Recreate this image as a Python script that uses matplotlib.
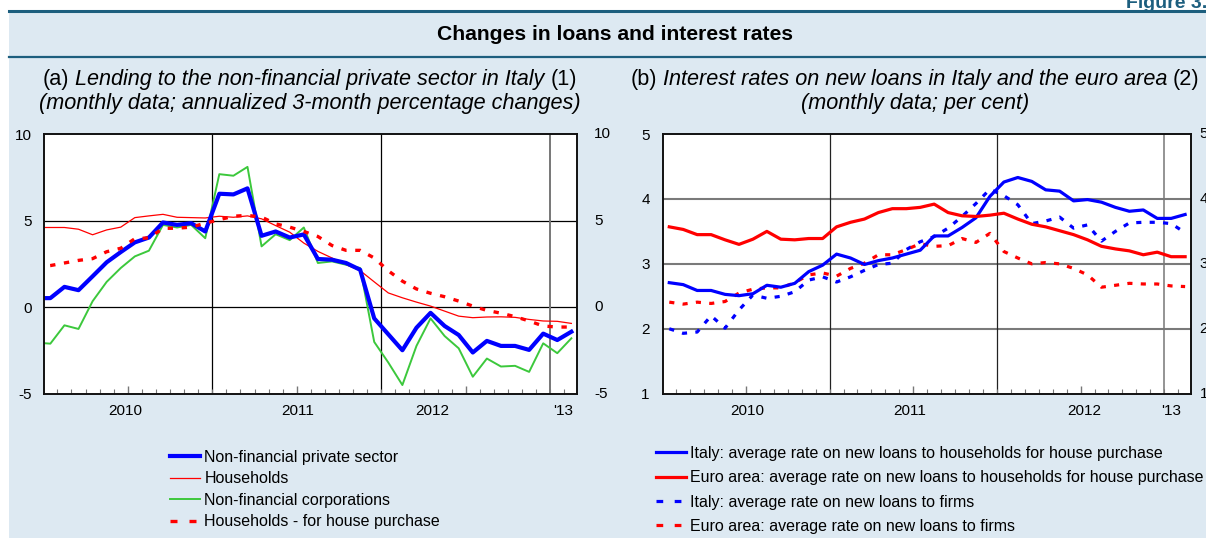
import matplotlib
matplotlib.use("Agg")
import matplotlib.pyplot as plt
from matplotlib.patches import Rectangle
from matplotlib.lines import Line2D
from matplotlib.transforms import offset_copy
import numpy as np

plt.rcParams["font.family"] = ["Liberation Sans", "DejaVu Sans"]

W, H, DPI = 1206, 538, 100

# ---------------------------------------------------------------- data
# Panel (a): Dec 2009 - Feb 2013, annualized 3-month percentage changes
lend_private = [0.52, 0.52, 1.17, 0.98, 1.78, 2.59, 3.18, 3.74, 4.02, 4.89,
                4.75, 4.85, 4.37, 6.55, 6.51, 6.86, 4.12, 4.37, 4.02, 4.20,
                2.78, 2.74, 2.55, 2.16, -0.65, -1.57, -2.49, -1.19, -0.33, -1.09,
                -1.61, -2.62, -1.95, -2.24, -2.24, -2.47, -1.53, -1.90, -1.42]
lend_households = [4.60, 4.60, 4.60, 4.50, 4.18, 4.46, 4.62, 5.17, 5.27, 5.36,
                   5.19, 5.17, 5.15, 5.25, 5.19, 5.27, 5.10, 4.71, 4.33, 3.70,
                   3.22, 2.84, 2.45, 2.11, 1.46, 0.82, 0.54, 0.29, 0.06, -0.23,
                   -0.52, -0.61, -0.57, -0.56, -0.59, -0.71, -0.80, -0.82, -0.94]
lend_firms = [-2.05, -2.11, -1.05, -1.26, 0.34, 1.46, 2.26, 2.93, 3.26, 4.75,
              4.60, 4.75, 3.98, 7.68, 7.59, 8.10, 3.51, 4.21, 3.87, 4.60,
              2.55, 2.64, 2.45, 2.26, -2.01, -3.20, -4.50, -2.24, -0.65, -1.67,
              -2.38, -4.02, -2.97, -3.43, -3.39, -3.74, -2.09, -2.66, -1.80]
lend_house = [2.30, 2.40, 2.55, 2.70, 2.80, 3.20, 3.40, 3.95, 4.00, 4.55,
              4.56, 4.62, 4.85, 5.05, 5.25, 5.30, 5.20, 4.81, 4.62, 4.37,
              4.08, 3.56, 3.28, 3.28, 2.84, 2.10, 1.50, 1.05, 0.80, 0.60,
              0.35, 0.06, -0.19, -0.35, -0.55, -0.80, -1.09, -1.15, -1.15]

# Panel (b): Jan 2010 - Feb 2013, per cent
rate_it_house = [2.71, 2.68, 2.59, 2.59, 2.53, 2.51, 2.54, 2.67, 2.64, 2.70,
                 2.88, 2.98, 3.15, 3.09, 2.99, 3.05, 3.09, 3.15, 3.21, 3.43,
                 3.43, 3.56, 3.71, 4.04, 4.26, 4.33, 4.27, 4.14, 4.12, 3.97,
                 3.99, 3.95, 3.87, 3.81, 3.83, 3.70, 3.70, 3.76]
rate_ea_house = [3.57, 3.53, 3.45, 3.45, 3.37, 3.30, 3.38, 3.50, 3.38, 3.37,
                 3.39, 3.39, 3.57, 3.64, 3.69, 3.79, 3.85, 3.85, 3.87, 3.92,
                 3.79, 3.74, 3.73, 3.75, 3.78, 3.69, 3.61, 3.57, 3.51, 3.45,
                 3.37, 3.27, 3.23, 3.20, 3.14, 3.18, 3.11, 3.11]
rate_it_firms = [2.00, 1.93, 1.95, 2.20, 2.01, 2.29, 2.52, 2.47, 2.50, 2.57,
                 2.75, 2.80, 2.72, 2.80, 2.90, 2.99, 3.01, 3.22, 3.34, 3.42,
                 3.55, 3.73, 3.93, 4.15, 4.05, 3.91, 3.62, 3.66, 3.72, 3.55,
                 3.60, 3.35, 3.50, 3.63, 3.64, 3.64, 3.62, 3.48]
rate_ea_firms = [2.41, 2.38, 2.41, 2.39, 2.42, 2.55, 2.61, 2.63, 2.63, 2.71,
                 2.83, 2.86, 2.81, 2.93, 3.01, 3.14, 3.14, 3.22, 3.31, 3.27,
                 3.28, 3.39, 3.33, 3.47, 3.19, 3.09, 3.00, 3.02, 3.00, 2.93,
                 2.83, 2.64, 2.67, 2.70, 2.69, 2.69, 2.66, 2.65]

year_labels = ["2010", "2011", "2012", "'13"]
year_pos_a = [5.8, 18.05, 27.6, 36.95]
year_pos_b = [6.1, 17.75, 30.3, 36.5]
yticks_a = [-5, 0, 5, 10]
yticks_b = [1, 2, 3, 4, 5]

title = "Changes in loans and interest rates"
sub_a = [("(a)", "normal"),
         ("Lending to the non-financial private sector in Italy", "italic"),
         ("(1)", "normal")]
sub_a2 = "(monthly data; annualized 3-month percentage changes)"
sub_b = [("(b)", "normal"),
         ("Interest rates on new loans in Italy and the euro area", "italic"),
         ("(2)", "normal")]
sub_b2 = "(monthly data; per cent)"

# ---------------------------------------------------------------- style
BG = "#dde9f2"
TEAL = "#1c5e7e"
BLUE = "#0000ff"
RED = "#ff0000"
GREEN = "#3cc83c"
DASH = (0, (1.6, 2.6))
LEG_DASH = (0, (2.1, 3.6))

x_a = np.arange(len(lend_private)) - 0.5   # mid-month, Dec 2009 first
x_b = np.arange(len(rate_it_house)) + 0.5  # mid-month, Jan 2010 first


def fx(px):
    return px / W


def fy(py):
    return 1 - py / H


fig = plt.figure(figsize=(W / DPI, H / DPI), dpi=DPI)
fig.patch.set_facecolor("white")
fig.add_artist(Rectangle((fx(9), 0), 1, fy(11), transform=fig.transFigure,
                         facecolor=BG, edgecolor="none", zorder=-10))
fig.add_artist(Line2D([fx(9), 1], [fy(11), fy(11)], color=TEAL, lw=2.2))
fig.add_artist(Line2D([fx(9), 1], [fy(57), fy(57)], color=TEAL, lw=1.6))
fig.text(fx(1207), fy(8.5), "Figure 3.", ha="right", va="baseline", fontsize=14,
         fontweight="bold", color=TEAL)
fig.text(fx(615), fy(35), title, ha="center", va="center", fontsize=15.2,
         fontweight="bold")

renderer = fig.canvas.get_renderer()


def centered_runs(x_px, y_px, runs, size):
    """Draw mixed upright/italic pieces as one centred line."""
    a = fig.text(0, 0, "a a", fontsize=size)
    b = fig.text(0, 0, "aa", fontsize=size)
    gap = a.get_window_extent(renderer).width - b.get_window_extent(renderer).width
    a.remove()
    b.remove()
    items = []
    for s, style in runs:
        t = fig.text(0, fy(y_px), s, fontsize=size, style=style,
                     ha="left", va="center")
        items.append((t, t.get_window_extent(renderer).width))
    total = sum(w for _, w in items) + gap * (len(items) - 1)
    x = x_px - total / 2
    for t, w in items:
        t.set_x(fx(x))
        x += w + gap


SUB_FS = 15.6
centered_runs(310, 80, sub_a, SUB_FS)
fig.text(fx(310), fy(104), sub_a2, ha="center", va="center",
         fontsize=SUB_FS, style="italic")
centered_runs(915, 80, sub_b, SUB_FS)
fig.text(fx(915), fy(104), sub_b2, ha="center", va="center",
         fontsize=SUB_FS, style="italic")

ax_bottom, ax_top = 393.7, 134
ax_a = fig.add_axes([fx(44), fy(ax_bottom), fx(577 - 44), (ax_bottom - ax_top) / H])
ax_b = fig.add_axes([fx(663), fy(ax_bottom), fx(1190.7 - 663), (ax_bottom - ax_top) / H])


def frame(ax, ylim, yticks, lpad, rpad, year_pos):
    ax.set_facecolor("white")
    ax.set_xlim(0.05, 37.9)
    ax.set_ylim(*ylim)
    ax.set_yticks(yticks)
    ax.set_yticklabels([str(v) for v in yticks])
    ax.tick_params(axis="y", length=0, labelsize=11, pad=lpad)
    # right-hand labels, with their own distance from the frame
    tr = offset_copy(ax.get_yaxis_transform(), fig=fig, x=rpad, units="points")
    for v in yticks:
        ax.text(1, v, str(v), transform=tr, ha="left", va="center",
                fontsize=11, clip_on=False)
    ax.set_xticks([6, 18, 30])
    ax.set_xticks([m for m in range(1, 38) if m not in (6, 18, 30)], minor=True)
    ax.set_xticklabels([])
    ax.tick_params(axis="x", which="major", direction="in", length=5.5,
                   width=1, color="#777777")
    ax.tick_params(axis="x", which="minor", direction="in", length=3.6,
                   width=0.8, color="#777777")
    for sp in ax.spines.values():
        sp.set_linewidth(1.4)
        sp.set_color("#111111")
        sp.set_zorder(6)
    for xp, lab in zip(year_pos, year_labels):
        ax.text(xp, -0.04, lab, transform=ax.get_xaxis_transform(),
                ha="center", va="top", fontsize=11)


# ---------------------------------------------------------------- panel (a)
frame(ax_a, (-5, 10), yticks_a, 8.5, 12.5, year_pos_a)
for yv in (0, 5):
    ax_a.axhline(yv, color="black", lw=0.9, zorder=1)
for xv in (12, 24):
    ax_a.axvline(xv, color="black", lw=0.9, zorder=1)
ax_a.axvline(36, color="#777777", lw=1.4, zorder=1)

l1, = ax_a.plot(x_a, lend_private, color=BLUE, lw=3.0, zorder=4)
l2, = ax_a.plot(x_a, lend_households, color=RED, lw=0.9, zorder=3)
l3, = ax_a.plot(x_a, lend_firms, color=GREEN, lw=1.4, zorder=3)
l4, = ax_a.plot(x_a, lend_house, color=RED, lw=2.4, ls=DASH, zorder=5)

# ---------------------------------------------------------------- panel (b)
frame(ax_b, (1, 5), yticks_b, 9.5, 6.5, year_pos_b)
for yv in (2, 3, 4):
    ax_b.axhline(yv, color="#7a7a7a", lw=1.5, zorder=1)
for xv in (12, 24):
    ax_b.axvline(xv, color="#222222", lw=0.9, zorder=1)
ax_b.axvline(36, color="#777777", lw=1.1, zorder=1)

m1, = ax_b.plot(x_b, rate_it_house, color=BLUE, lw=2.3, zorder=4)
m2, = ax_b.plot(x_b, rate_ea_house, color=RED, lw=2.3, zorder=4)
m3, = ax_b.plot(x_b, rate_it_firms, color=BLUE, lw=2.3, ls=DASH, zorder=3)
m4, = ax_b.plot(x_b, rate_ea_firms, color=RED, lw=2.3, ls=DASH, zorder=3)

# ---------------------------------------------------------------- legends
LEG_FS = 11.5


def proxy(line, dashed=False):
    return Line2D([], [], color=line.get_color(), lw=line.get_linewidth(),
                  ls=LEG_DASH if dashed else "-")


fig.legend(handles=[proxy(l1), proxy(l2), proxy(l3), proxy(l4, True)],
           labels=["Non-financial private sector", "Households",
                   "Non-financial corporations", "Households - for house purchase"],
           loc="upper left", bbox_to_anchor=(fx(170), fy(450)), frameon=False,
           fontsize=LEG_FS, handlelength=1.9, handletextpad=0.25,
           labelspacing=0.4, borderpad=0, borderaxespad=0)
fig.legend(handles=[proxy(m1), proxy(m2), proxy(m3, True), proxy(m4, True)],
           labels=["Italy: average rate on new loans to households for house purchase",
                   "Euro area: average rate on new loans to households for house purchase",
                   "Italy: average rate on new loans to firms",
                   "Euro area: average rate on new loans to firms"],
           loc="upper left", bbox_to_anchor=(fx(656), fy(446)), frameon=False,
           fontsize=LEG_FS, handlelength=1.9, handletextpad=0.25,
           labelspacing=0.58, borderpad=0, borderaxespad=0)

fig.savefig("out.png", dpi=DPI, facecolor=fig.get_facecolor())
